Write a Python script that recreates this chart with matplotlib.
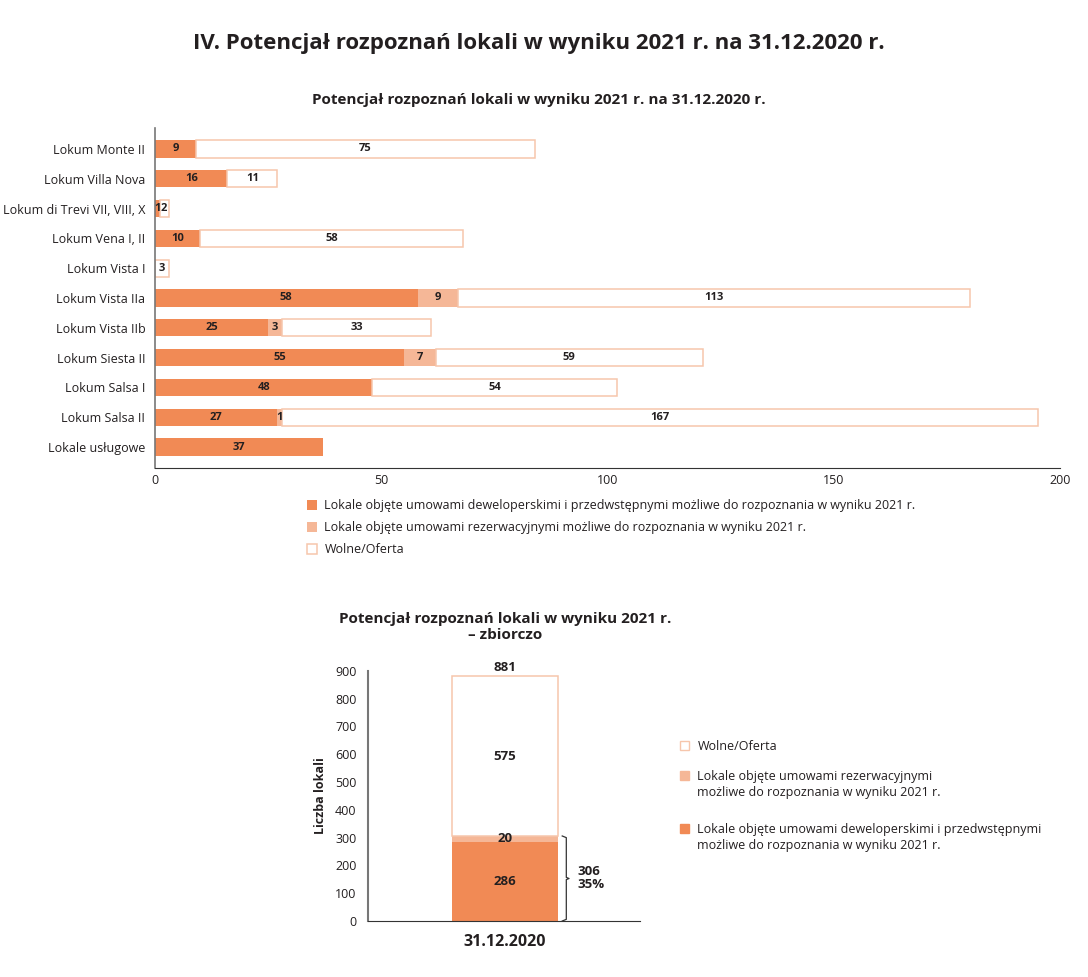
import numpy as np
import matplotlib
matplotlib.use('Agg')
import matplotlib.pyplot as plt
from matplotlib.patches import Rectangle

plt.rcParams['font.family'] = ['Open Sans', 'DejaVu Sans']

# dane - wykres poziomy
inwestycje = ['Lokum Monte II', 'Lokum Villa Nova', 'Lokum di Trevi VII, VIII, X',
              'Lokum Vena I, II', 'Lokum Vista I', 'Lokum Vista IIa', 'Lokum Vista IIb',
              'Lokum Siesta II', 'Lokum Salsa I', 'Lokum Salsa II', 'Lokale usługowe']
deweloperskie = [9, 16, 1, 10, 0, 58, 25, 55, 48, 27, 37]
rezerwacyjne = [0, 0, 0, 0, 0, 9, 3, 7, 0, 1, 0]
wolne = [75, 11, 2, 58, 3, 113, 33, 59, 54, 167, 0]
x_ticks = [0, 50, 100, 150, 200]

# dane - zbiorczo
data_zb = ['31.12.2020']
dew_zb = [286]
rez_zb = [20]
wol_zb = [575]
y_ticks_zb = [0, 100, 200, 300, 400, 500, 600, 700, 800, 900]

nazwy = ['Lokale objęte umowami deweloperskimi i przedwstępnymi możliwe do rozpoznania w wyniku 2021 r.',
         'Lokale objęte umowami rezerwacyjnymi możliwe do rozpoznania w wyniku 2021 r.',
         'Wolne/Oferta']

c_dew = '#F18A55'
c_rez = '#F5B797'
c_edge = '#F6C6AC'
c_txt = '#231F20'

fig = plt.figure(figsize=(10.88, 9.77), dpi=100)

fig.text(0.495, 0.955, 'IV. Potencjał rozpoznań lokali w wyniku 2021 r. na 31.12.2020 r.',
         ha='center', va='center', fontsize=16, fontweight='bold', color=c_txt)
fig.text(0.495, 0.898, 'Potencjał rozpoznań lokali w wyniku 2021 r. na 31.12.2020 r.',
         ha='center', va='center', fontsize=11, fontweight='bold', color=c_txt)

# wykres gorny
ax = fig.add_axes([0.1425, 0.521, 0.832, 0.348])
y = np.arange(len(inwestycje))
d = np.array(deweloperskie)
r = np.array(rezerwacyjne)
w = np.array(wolne)
h = 0.58
ax.barh(y, d, height=h, color=c_dew, label=nazwy[0])
ax.barh(y, r, left=d, height=h, color=c_rez, label=nazwy[1])
m = w > 0
ax.barh(y[m], w[m], left=(d + r)[m], height=h, color='white', edgecolor=c_edge,
        linewidth=1.1, label=nazwy[2])

for i in range(len(y)):
    start = 0
    for v in (d[i], r[i], w[i]):
        if v > 0:
            ax.text(start + v / 2, y[i], str(v), ha='center', va='center',
                    fontsize=8, fontweight='bold', color=c_txt)
        start += v

ax.set_yticks(y)
ax.set_yticklabels(inwestycje, fontsize=9, color=c_txt)
ax.set_ylim(len(y) - 1 + 0.7, -0.7)
ax.set_xlim(0, 200)
ax.set_xticks(x_ticks)
ax.set_xticklabels([str(t) for t in x_ticks], fontsize=9, color=c_txt)
ax.tick_params(length=0, pad=7)
ax.tick_params(axis='x', pad=4)
for s in ['top', 'right']:
    ax.spines[s].set_visible(False)
ax.spines['left'].set_color('#777777')
ax.spines['left'].set_linewidth(1.2)
ax.spines['bottom'].set_color('#333333')

fig.legend(loc='upper left', bbox_to_anchor=(0.278, 0.494), frameon=False, fontsize=9,
           handlelength=0.75, handleheight=0.75, handletextpad=0.6, labelspacing=0.72,
           borderaxespad=0, labelcolor=c_txt)

# wykres dolny
fig.text(0.464, 0.358, 'Potencjał rozpoznań lokali w wyniku 2021 r.\n– zbiorczo',
         ha='center', va='center', fontsize=11, fontweight='bold', color=c_txt,
         linespacing=1.2)
ax2 = fig.add_axes([0.338, 0.0573, 0.25, 0.256])
xb = np.arange(len(data_zb))
dz = np.array(dew_zb)
rz = np.array(rez_zb)
wz = np.array(wol_zb)
bw = 0.39
ax2.bar(xb, dz, width=bw, color=c_dew)
ax2.bar(xb, rz, bottom=dz, width=bw, color=c_rez)
ax2.bar(xb, wz, bottom=dz + rz, width=bw, color='white', edgecolor=c_edge, linewidth=1.1)
ax2.set_xlim(-0.505, 0.495)
ax2.set_ylim(0, 900)
ax2.set_yticks(y_ticks_zb)
ax2.set_yticklabels([str(t) for t in y_ticks_zb], fontsize=9, color=c_txt)
ax2.set_xticks(xb)
ax2.set_xticklabels(data_zb, fontsize=11.5, fontweight='bold', color=c_txt)
ax2.tick_params(length=0)
ax2.tick_params(axis='y', pad=8)
ax2.tick_params(axis='x', pad=9)
ax2.set_ylabel('Liczba lokali', fontsize=9, fontweight='bold', color=c_txt, labelpad=6)
for s in ['top', 'right']:
    ax2.spines[s].set_visible(False)
ax2.spines['left'].set_color('#777777')
ax2.spines['left'].set_linewidth(1.5)
ax2.spines['bottom'].set_color('#333333')

for i in range(len(xb)):
    ax2.text(xb[i], dz[i] / 2, str(dz[i]), ha='center', va='center', fontsize=9.5,
             fontweight='bold', color=c_txt)
    ax2.text(xb[i], dz[i] + rz[i] / 2, str(rz[i]), ha='center', va='center', fontsize=9.5,
             fontweight='bold', color=c_txt)
    ax2.text(xb[i], dz[i] + rz[i] + wz[i] / 2, str(wz[i]), ha='center', va='center',
             fontsize=9.5, fontweight='bold', color=c_txt)
    suma = dz[i] + rz[i] + wz[i]
    ax2.text(xb[i], suma + 8, str(suma), ha='center', va='bottom', fontsize=9.5,
             fontweight='bold', color=c_txt)
    # klamra
    rozp = dz[i] + rz[i]
    bx = xb[i] + bw / 2 + 0.03
    ax2.plot([bx - 0.015, bx, bx, bx + 0.01, bx, bx, bx - 0.015],
             [rozp, rozp - 6, rozp / 2 + 4, rozp / 2, rozp / 2 - 4, 6, 0],
             color='#333333', lw=0.9, clip_on=False)
    ax2.text(bx + 0.04, rozp / 2, f'{rozp}\n{round(100 * rozp / suma)}%', ha='left',
             va='center', fontsize=9.5, fontweight='bold', color=c_txt, linespacing=1.0)

# legenda dolna
leg_y = [0.237, 0.206, 0.152]
leg_txt = ['Wolne/Oferta',
           'Lokale objęte umowami rezerwacyjnymi\nmożliwe do rozpoznania w wyniku 2021 r.',
           'Lokale objęte umowami deweloperskimi i przedwstępnymi\nmożliwe do rozpoznania w wyniku 2021 r.']
leg_fc = ['white', c_rez, c_dew]
for yy, t, fc in zip(leg_y, leg_txt, leg_fc):
    fig.patches.append(Rectangle((0.625, yy - 0.0045), 0.0085, 0.0095, transform=fig.transFigure,
                                 facecolor=fc, edgecolor=c_edge if fc == 'white' else fc, lw=1))
    fig.text(0.641, yy + 0.006, t, ha='left', va='top', fontsize=9, color=c_txt,
             linespacing=1.35)

fig.savefig('out.png', dpi=100)
